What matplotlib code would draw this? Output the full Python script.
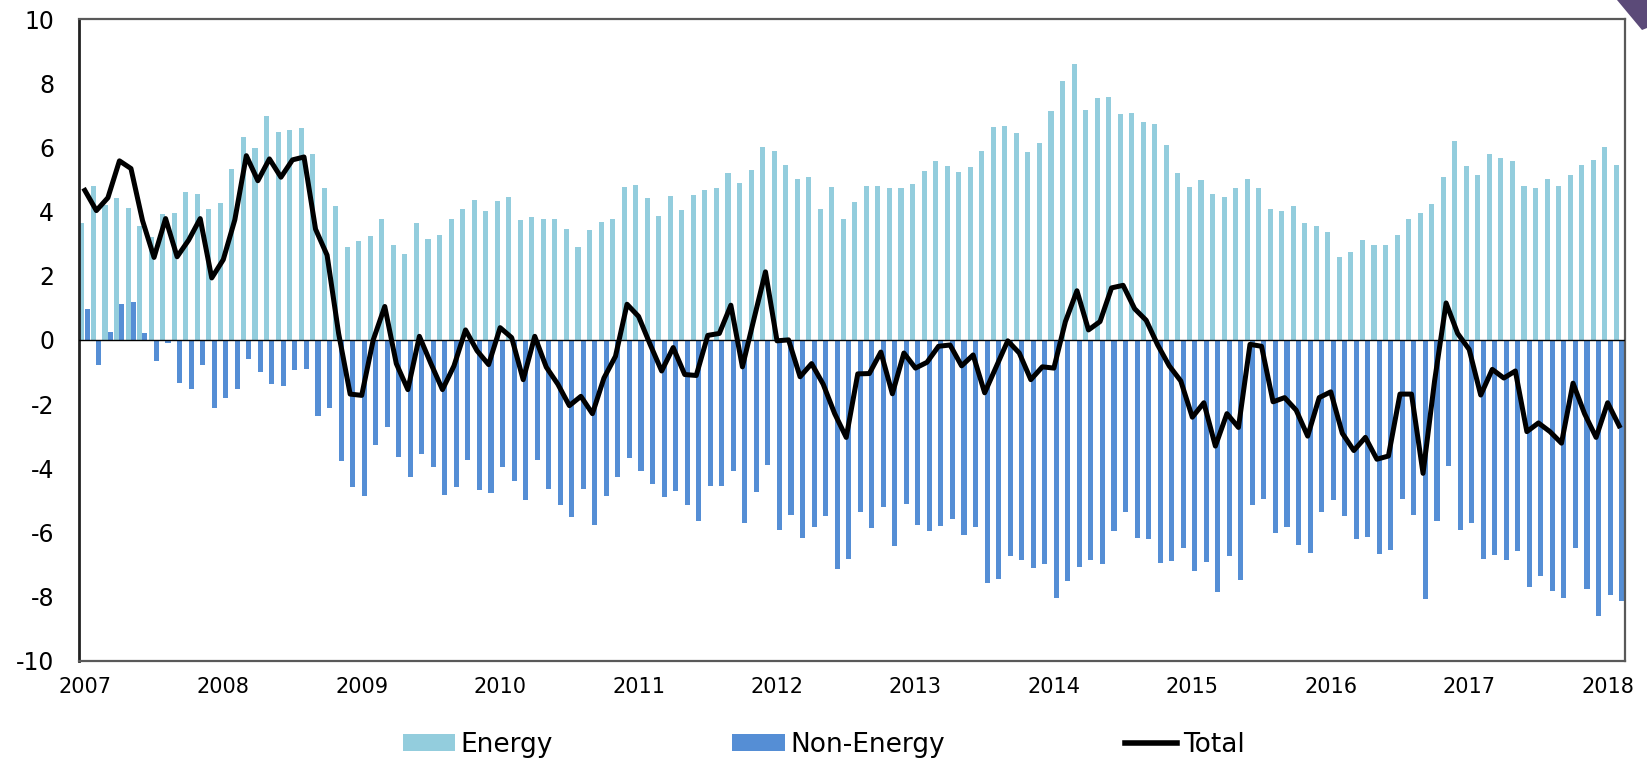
import matplotlib
matplotlib.use("Agg")
import matplotlib.pyplot as plt
from matplotlib.patches import Polygon
from matplotlib.lines import Line2D
from matplotlib.patches import Patch
import numpy as np

years = ["2007", "2008", "2009", "2010", "2011", "2012", "2013", "2014", "2015", "2016", "2017", "2018"]

energy = [3.65, 4.8, 4.19, 4.43, 4.12, 3.54, 3.2, 3.92, 3.96, 4.62, 4.55, 4.08,
          4.28, 5.31, 6.32, 5.99, 6.99, 6.49, 6.53, 6.59, 5.78, 4.73, 4.16, 2.89,
          3.08, 3.24, 3.78, 2.95, 2.69, 3.64, 3.15, 3.26, 3.76, 4.07, 4.35, 4.01,
          4.34, 4.45, 3.73, 3.84, 3.76, 3.76, 3.45, 2.89, 3.42, 3.66, 3.76, 4.77,
          4.82, 4.43, 3.86, 4.47, 4.04, 4.5, 4.68, 4.74, 5.19, 4.88, 5.28, 6.0,
          5.88, 5.46, 5.0, 5.07, 4.08, 4.78, 3.76, 4.3, 4.8, 4.8, 4.73, 4.72,
          4.86, 5.26, 5.59, 5.43, 5.22, 5.38, 5.88, 6.62, 6.68, 6.45, 5.84, 6.15,
          7.12, 8.08, 8.61, 7.18, 7.55, 7.58, 7.03, 7.07, 6.78, 6.74, 6.07, 5.2,
          4.78, 4.97, 4.54, 4.45, 4.74, 5.0, 4.72, 4.08, 4.03, 4.18, 3.65, 3.55,
          3.35, 2.57, 2.74, 3.11, 2.97, 2.95, 3.26, 3.76, 3.95, 4.24, 5.07, 6.19,
          5.41, 5.14, 5.78, 5.68, 5.59, 4.8, 4.73, 5.0, 4.81, 5.14, 5.46, 5.61,
          6.0, 5.46]

non_energy = [0.97, -0.78, 0.24, 1.12, 1.19, 0.22, -0.65, -0.11, -1.35, -1.53, -0.78, -2.12,
              -1.8, -1.53, -0.61, -1.01, -1.38, -1.43, -0.95, -0.92, -2.36, -2.12, -3.78, -4.59,
              -4.86, -3.28, -2.73, -3.65, -4.26, -3.55, -3.95, -4.82, -4.59, -3.73, -4.69, -4.78,
              -3.95, -4.41, -4.99, -3.73, -4.65, -5.15, -5.51, -4.66, -5.77, -4.86, -4.28, -3.68,
              -4.09, -4.49, -4.89, -4.72, -5.14, -5.64, -4.54, -4.55, -4.09, -5.72, -4.73, -3.89,
              -5.92, -5.45, -6.19, -5.84, -5.49, -7.14, -6.82, -5.38, -5.85, -5.22, -6.41, -5.11,
              -5.78, -5.97, -5.81, -5.59, -6.08, -5.84, -7.57, -7.45, -6.73, -6.85, -7.12, -7.0,
              -8.03, -7.51, -7.09, -6.86, -7.0, -5.95, -5.36, -6.18, -6.2, -6.96, -6.88, -6.5,
              -7.19, -6.93, -7.85, -6.74, -7.47, -5.14, -4.95, -6.01, -5.82, -6.38, -6.65, -5.36,
              -4.99, -5.49, -6.2, -6.15, -6.66, -6.55, -4.97, -5.45, -8.07, -5.65, -3.93, -5.93,
              -5.72, -6.84, -6.7, -6.85, -6.57, -7.7, -7.35, -7.84, -8.04, -6.5, -7.77, -8.62,
              -7.95, -8.14]

total = [4.66, 4.03, 4.43, 5.58, 5.34, 3.72, 2.57, 3.78, 2.59, 3.11, 3.78, 1.93,
         2.5, 3.74, 5.74, 4.96, 5.64, 5.07, 5.61, 5.7, 3.45, 2.64, 0.2, -1.69,
         -1.73, 0.0, 1.04, -0.74, -1.55, 0.11, -0.74, -1.55, -0.81, 0.31, -0.34, -0.77,
         0.38, 0.07, -1.24, 0.11, -0.85, -1.38, -2.05, -1.76, -2.3, -1.19, -0.51, 1.11,
         0.73, -0.14, -0.97, -0.24, -1.08, -1.11, 0.14, 0.2, 1.08, -0.84, 0.65, 2.12,
         -0.03, 0.0, -1.15, -0.74, -1.38, -2.3, -3.04, -1.06, -1.05, -0.38, -1.68, -0.41,
         -0.88, -0.7, -0.2, -0.16, -0.81, -0.47, -1.65, -0.84, -0.03, -0.41, -1.24, -0.84,
         -0.88, 0.57, 1.53, 0.31, 0.57, 1.62, 1.7, 0.97, 0.61, -0.16, -0.81, -1.28,
         -2.41, -1.96, -3.31, -2.3, -2.73, -0.14, -0.2, -1.93, -1.8, -2.19, -3.0, -1.8,
         -1.62, -2.91, -3.45, -3.04, -3.72, -3.62, -1.69, -1.69, -4.16, -1.28, 1.15, 0.2,
         -0.3, -1.72, -0.92, -1.19, -0.97, -2.86, -2.59, -2.86, -3.22, -1.35, -2.3, -3.04,
         -1.96, -2.68]

energy_color = "#93CDDD"
non_energy_color = "#558ED5"

x = np.arange(len(total))

fig = plt.figure(figsize=(16.47, 7.64), dpi=100)
ax = fig.add_axes([0.048, 0.1352, 0.9386, 0.8399])

ax.bar(x - 0.25, energy, width=0.44, color=energy_color, zorder=2)
ax.bar(x + 0.21, non_energy, width=0.44, color=non_energy_color, zorder=2)
ax.axhline(0, color="black", lw=1.0, zorder=3)
ax.plot(x, total, color="black", lw=3.6, solid_joinstyle="round", zorder=4)

ax.set_xlim(-0.5, len(total) - 0.5)
ax.set_ylim(-10, 10)
ax.set_yticks(np.arange(-10, 11, 2))
ax.set_yticklabels([str(v) for v in range(-10, 11, 2)])
ax.set_xticks(np.arange(0, 12 * len(years), 12))
ax.set_xticklabels(years)
ax.tick_params(axis="y", length=0, pad=18, labelsize=17)
ax.tick_params(axis="x", length=0, pad=12, labelsize=15)

for side in ["top", "right", "bottom"]:
    ax.spines[side].set_color("#595959")
    ax.spines[side].set_linewidth(1.6)
ax.spines["left"].set_color("#222222")
ax.spines["left"].set_linewidth(2.0)

handles = [Patch(facecolor=energy_color, edgecolor="none"),
           Patch(facecolor=non_energy_color, edgecolor="none"),
           Line2D([0], [0], color="black", lw=4)]
fig.legend(handles, ["Energy", "Non-Energy", "Total"], loc="center",
           bbox_to_anchor=(0.5, 19 / 764), ncol=3, frameon=False, fontsize=19,
           handlelength=2.0, handleheight=0.58, handletextpad=0.2, columnspacing=6.8,
           borderaxespad=0, borderpad=0)

# decorative corner shape at the top right
corner = Polygon([[1617 / 1647, 1.0], [1.0, 1.0], [1.0, 1 - 28 / 764], [1642 / 1647, 1 - 30 / 764]],
                 closed=True, transform=fig.transFigure, facecolor="#5b4a78", edgecolor="none")
fig.patches.append(corner)

fig.savefig("out.png", dpi=100)
